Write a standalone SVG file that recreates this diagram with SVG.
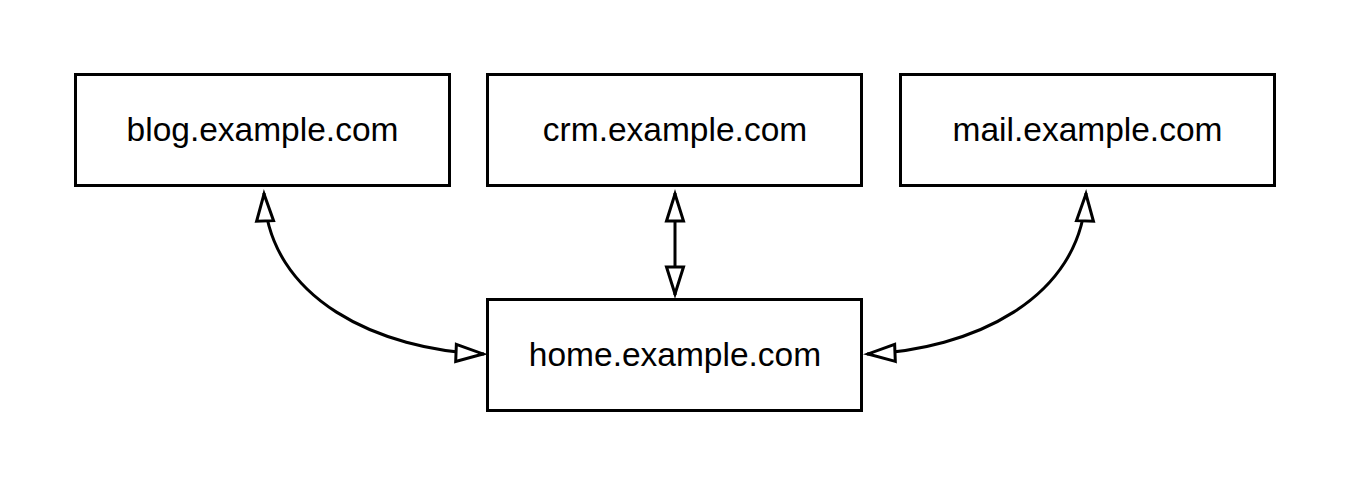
<svg xmlns="http://www.w3.org/2000/svg" width="1350" height="488" viewBox="0 0 1350 488">
<style>
.box{fill:#fff;stroke:#000;stroke-width:3}
.lbl{font-family:"Liberation Sans",Arial,sans-serif;font-size:33.5px;fill:#000;text-anchor:middle}
.conn{fill:none;stroke:#000;stroke-width:3}
</style>
<defs>
<marker id="arr" markerUnits="userSpaceOnUse" viewBox="-4 -14 36 28" markerWidth="36" markerHeight="28" refX="28" refY="0" orient="auto-start-reverse">
<path d="M0,-8.5 L27,0 L0,8.5 z" fill="#fff" stroke="#000" stroke-width="3" stroke-linejoin="miter"/>
</marker>
</defs>
<rect width="1350" height="488" fill="#fff"/>
<g id="connectors">
<path class="conn" d="M 264 193 C 268 300, 380 350, 484 354" marker-start="url(#arr)" marker-end="url(#arr)"/>
<path class="conn" d="M 675 193 L 675 295" marker-start="url(#arr)" marker-end="url(#arr)"/>
<path class="conn" d="M 1086 193 C 1082 300, 970 350, 867 354" marker-start="url(#arr)" marker-end="url(#arr)"/>
</g>
<g id="blog"><rect class="box" x="75.5" y="74.5" width="374" height="111"/><text class="lbl" x="262.5" y="141">blog.example.com</text></g>
<g id="crm"><rect class="box" x="487.5" y="74.5" width="374" height="111"/><text class="lbl" x="675" y="141">crm.example.com</text></g>
<g id="mail"><rect class="box" x="900.5" y="74.5" width="374" height="111"/><text class="lbl" x="1087.5" y="141">mail.example.com</text></g>
<g id="home"><rect class="box" x="487.5" y="299.5" width="374" height="111"/><text class="lbl" x="675" y="366">home.example.com</text></g>
</svg>
